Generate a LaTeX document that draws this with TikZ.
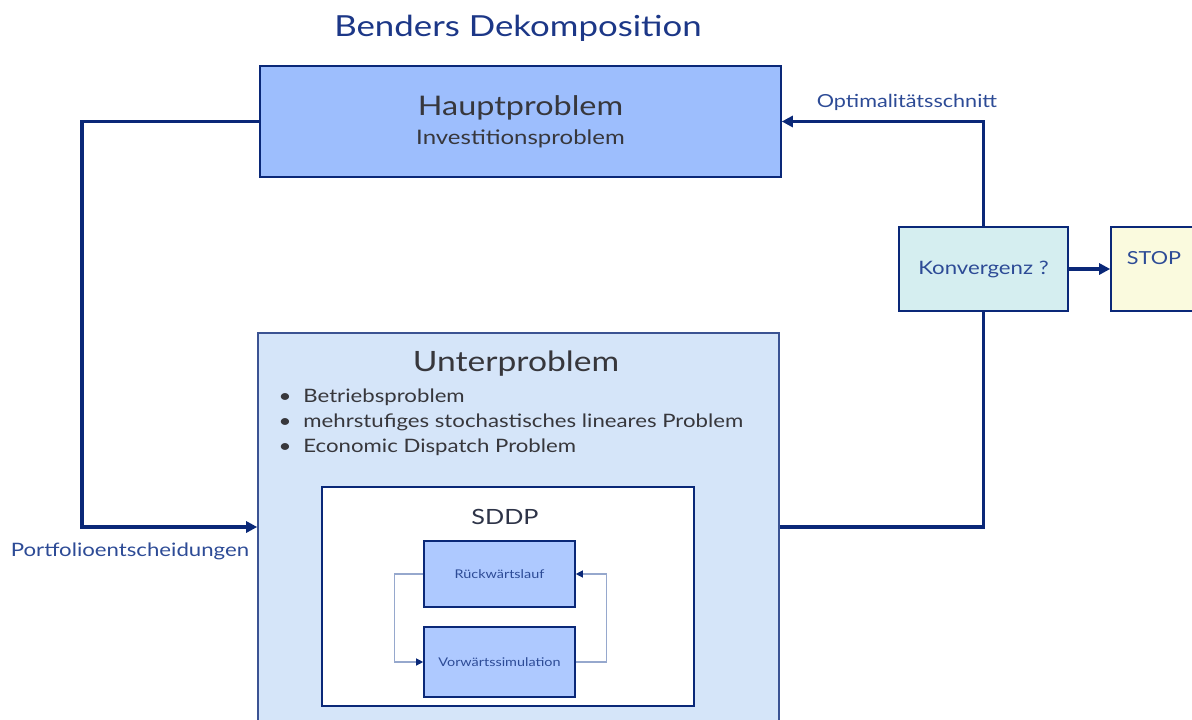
\documentclass[tikz,border=0pt]{standalone}
\usepackage{fontspec}
\setmainfont{Lato}[FakeStretch=1.2]
\usetikzlibrary{arrows.meta,calc}
\definecolor{BdNavy}{RGB}{10,40,120}
\definecolor{BdLabel}{RGB}{45,75,150}
\definecolor{BdTitle}{RGB}{28,55,135}
\definecolor{BdDark}{RGB}{55,55,60}
\definecolor{BdHaupt}{RGB}{157,190,253}
\definecolor{BdUnter}{RGB}{213,229,249}
\definecolor{BdInner}{RGB}{174,201,255}
\definecolor{BdKonv}{RGB}{213,238,240}
\definecolor{BdStop}{RGB}{250,250,222}
\definecolor{BdThin}{RGB}{150,168,205}
\newcommand{\fs}[2]{\fontsize{#1}{#2}\selectfont}
\tikzset{
  bd/box/.style={
    draw=BdNavy,
    line width=1.6pt,
    align=center,
    inner sep=0pt,
    text=BdDark
  },
  bd/small/.style={
    bd/box,
    fill=BdInner,
    minimum width=151pt,
    text=BdLabel,
    font=\fs{12}{14}
  },
  bd/arrow/.style={-{Triangle[length=11pt,width=11pt]}, line width=3.5pt, draw=BdNavy},
  bd/line/.style={line width=3.5pt, draw=BdNavy},
  bd/thinarrow/.style={-{Triangle[length=7pt,width=7pt,color=BdNavy]}, line width=1.2pt, draw=BdThin},
  bd/label/.style={text=BdLabel, font=\fs{18}{22}}
}
\begin{document}
\begin{tikzpicture}[x=1pt,y=-1pt]
  \useasboundingbox (0,0) rectangle (1192,720);
  \node[text=BdTitle,font=\fs{29}{34}] (title) at (518,28) {Benders Dekomposition};

  \node[bd/box,fill=BdHaupt,minimum width=521pt,minimum height=111pt] (haupt) at (520.5,121.5)
    {\fs{27}{31}Hauptproblem\\[9pt]\fs{20}{31}Investitionsproblem};
  \node[bd/box,draw=BdNavy!80,fill=BdUnter,minimum width=521pt,minimum height=388pt] (unter) at (518.5,527) {};
  \node[text=BdDark,font=\fs{28}{32}] (untertitle) at (516,364) {Unterproblem};
  \node[text=BdDark,font=\fs{18.5}{25},align=left,anchor=north west] (bullets) at (275,385)
    {\textbullet\hspace{12pt}Betriebsproblem\\
     \textbullet\hspace{12pt}mehrstufiges stochastisches lineares Problem\\
     \textbullet\hspace{12pt}Economic Dispatch Problem};

  \node[bd/box,fill=white,minimum width=372pt,minimum height=219pt] (sddp) at (508,596.5) {};
  \node[text=BdDark!80!BdNavy,font=\fs{21}{25}] (sddptitle) at (505,517) {SDDP};
  \node[bd/small,minimum height=66pt] (rueck) at (499.5,574) {Rückwärtslauf};
  \node[bd/small,minimum height=70pt] (vorw) at (499.5,662) {Vorwärtssimulation};
  \draw[bd/thinarrow] (rueck.west) -- ++(-29,0) |- (vorw.west);
  \draw[bd/thinarrow] (vorw.east) -- ++(31,0) |- (rueck.east);

  \node[bd/box,fill=BdKonv,minimum width=169pt,minimum height=84pt,text=BdLabel,font=\fs{18.5}{22}] (konv) at (983.5,269) {Konvergenz ?};
  \node[bd/box,fill=BdStop,minimum width=86pt,minimum height=84pt,text=BdLabel,font=\fs{18}{22},
    text depth=22pt] (stop) at (1154,269) {STOP};

  \draw[bd/arrow] (haupt.west) -- ++(-177,0) |- (unter.west);
  \node[bd/label,font=\fs{18.5}{22}] (portfolio) at (130,551) {Portfolioentscheidungen};
  \draw[bd/line] (unter.east) -| (konv.south);
  \draw[bd/arrow] (konv.north) |- (haupt.east);
  \node[bd/label] (optschnitt) at (907,102) {Optimalitätsschnitt};
  \draw[bd/arrow] (konv.east) -- (stop.west);
\end{tikzpicture}
\end{document}
